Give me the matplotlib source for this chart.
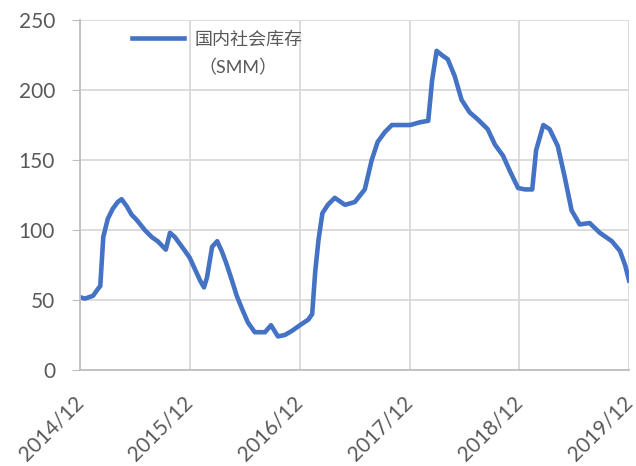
import pandas as pd
import matplotlib
matplotlib.use('Agg')
import matplotlib.pyplot as plt
import matplotlib.transforms as mtransforms

plt.rcParams['font.family'] = ['Lato', 'Noto Sans CJK SC', 'DejaVu Sans']

# 国内社会库存（SMM），读图估计
dates = [
    '2014-12-01', '2014-12-17', '2015-01-13', '2015-01-26', '2015-02-06', '2015-02-16',
    '2015-03-03', '2015-03-19', '2015-04-05', '2015-04-18', '2015-05-05', '2015-05-21',
    '2015-06-08', '2015-07-04', '2015-07-27', '2015-08-16', '2015-09-12', '2015-09-26',
    '2015-10-12', '2015-10-29', '2015-11-15', '2015-12-01', '2015-12-18', '2016-01-04',
    '2016-01-17', '2016-01-27', '2016-02-13', '2016-03-01', '2016-03-16', '2016-03-30',
    '2016-04-19', '2016-05-05', '2016-05-22', '2016-06-11', '2016-07-04', '2016-08-07',
    '2016-08-27', '2016-09-19', '2016-10-12', '2016-11-05', '2016-12-01', '2016-12-29',
    '2017-01-11', '2017-01-21', '2017-02-01', '2017-02-14', '2017-03-04', '2017-03-27',
    '2017-04-30', '2017-06-02', '2017-07-05', '2017-07-28', '2017-08-17', '2017-09-10',
    '2017-10-03', '2017-10-30', '2017-12-03', '2018-01-05', '2018-02-01', '2018-02-14',
    '2018-03-01', '2018-03-18', '2018-04-07', '2018-04-30', '2018-05-23', '2018-06-19',
    '2018-07-16', '2018-08-18', '2018-09-11', '2018-10-08', '2018-10-31', '2018-11-27',
    '2018-12-20', '2019-01-13', '2019-01-26', '2019-02-19', '2019-03-12', '2019-04-08',
    '2019-05-01', '2019-05-24', '2019-06-20', '2019-07-23', '2019-08-26', '2019-10-05',
    '2019-11-01', '2019-11-18', '2019-12-01',
]
stock = [
    52, 51, 53, 57, 60, 95,
    108, 115, 120, 122, 117, 111,
    107, 100, 95, 92, 86, 98,
    95, 90, 85, 80, 72, 64,
    59, 66, 88, 92, 85, 77,
    64, 53, 44, 34, 27, 27,
    32, 24, 25, 28, 32, 36,
    40, 70, 93, 112, 118, 123,
    118, 120, 129, 150, 163, 170,
    175, 175, 175, 177, 178, 207,
    228, 225, 222, 210, 193, 184,
    179, 172, 161, 153, 142, 130,
    129, 129, 157, 175, 172, 160,
    138, 114, 104, 105, 98, 92,
    85, 75, 64,
]
tick_dates = ['2014-12-01', '2015-12-01', '2016-12-01', '2017-12-01', '2018-12-01', '2019-12-01']
tick_labels = ['2014/12', '2015/12', '2016/12', '2017/12', '2018/12', '2019/12']

x = pd.to_datetime(dates)
xt = pd.to_datetime(tick_dates)

fig = plt.figure(figsize=(6.36, 4.66), dpi=100)
ax = fig.add_axes([0.126, 0.206, 0.863, 0.751])

line, = ax.plot(x, stock, color='#4472C4', lw=3.3, solid_joinstyle='round')

ax.set_xlim(xt[0], xt[-1])
ax.set_ylim(0, 250)
ax.set_yticks(range(0, 251, 50))
ax.set_xticks(xt)
ax.set_xticklabels(tick_labels, rotation=45, ha='right', va='center',
                   rotation_mode='anchor')
# 标签整体左移一点，避免 2019/12 出界
shift = mtransforms.ScaledTranslation(-4 / 72, 0, fig.dpi_scale_trans)
for lab in ax.get_xticklabels():
    lab.set_transform(lab.get_transform() + shift)

ax.grid(True, color='#D9D9D9', lw=1.3)
ax.set_axisbelow(True)
for s in ['top', 'right']:
    ax.spines[s].set_visible(False)
for s in ['left', 'bottom']:
    ax.spines[s].set_color('#BFBFBF')
    ax.spines[s].set_linewidth(1.3)
ax.tick_params(axis='y', colors='#595959', labelsize=15, length=6, color='#BFBFBF', pad=12)
ax.tick_params(axis='x', colors='#595959', labelsize=15, length=0, pad=21)

ax.legend([line], ['国内社会库存'], loc='center left', bbox_to_anchor=(0.0947, 0.946),
          frameon=False, fontsize=13, handlelength=2.9, handletextpad=0.55,
          borderpad=0, borderaxespad=0, labelcolor='#595959')
ax.text(0.215, 0.863, '（SMM）', transform=ax.transAxes, fontsize=13,
        color='#595959', va='center', ha='left')

fig.savefig('out.png', dpi=100)
